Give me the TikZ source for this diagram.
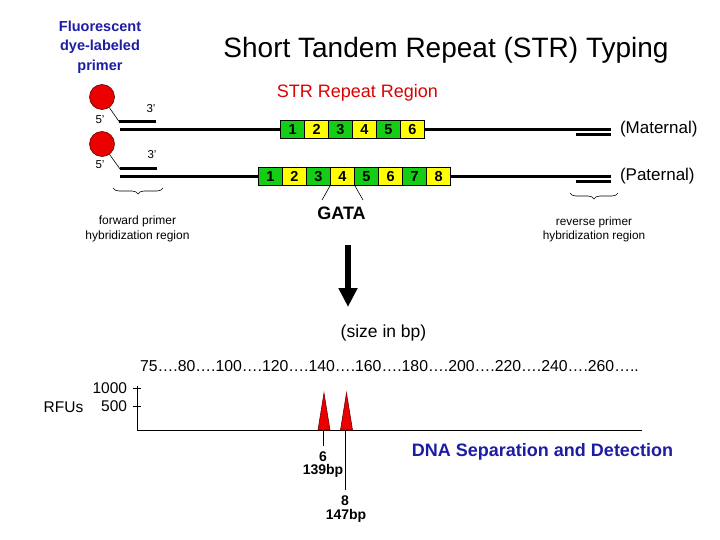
\documentclass[tikz,border=0pt]{standalone}
\usepackage{fontspec}
\setmainfont{Liberation Sans}
\usetikzlibrary{arrows.meta,decorations.pathreplacing}
\definecolor{dyeblue}{RGB}{28,28,165}
\definecolor{strred}{RGB}{220,0,0}
\definecolor{boxgreen}{RGB}{20,205,20}
\definecolor{boxyellow}{RGB}{255,255,0}
\definecolor{peakred}{RGB}{235,0,0}
\newcommand{\fs}[1]{\fontsize{#1}{#1}\selectfont}
\tikzset{
  txt/.style={inner sep=0pt, outer sep=0pt},
  strand/.style={line width=3.5pt},
  primerbar/.style={line width=3pt},
  gbox/.style={draw=black, line width=0.7pt, fill=boxgreen, minimum width=24pt, minimum height=17.5pt, inner sep=0pt, font=\fs{14.5}\bfseries},
  ybox/.style={gbox, fill=boxyellow},
  dye/.style={circle, draw=red!40!black, line width=0.6pt, fill=peakred, minimum size=25pt, inner sep=0pt},
  thin/.style={line width=0.6pt},
  bracestyle/.style={thin, decorate, decoration={brace, mirror, amplitude=6pt}},
  peak/.style={fill=peakred, draw=red!45!black, line width=0.6pt},
}
\begin{document}
\begin{tikzpicture}[x=1pt,y=-1pt]
\useasboundingbox (0,0) rectangle (720,540);

% titles
\node[txt, align=center, text=dyeblue, font=\fs{14.5}\bfseries, text depth=0pt] (dyetitle) at (100,45.5) {Fluorescent\\[5pt]dye-labeled\\[5pt]primer};
\node[txt, font=\fs{28}] (title) at (446,50) {Short Tandem Repeat (STR) Typing};
\node[txt, text=strred, font=\fs{18}] (strregion) at (357.5,93) {STR Repeat Region};

% dye circles
\node[dye] (dye1) at (102,97) {};
\node[dye] (dye2) at (102,144) {};

% strands
\coordinate (m0) at (120,129.5);
\coordinate (m1) at (611,129.5);
\coordinate (p0) at (120,176.5);
\coordinate (p1) at (611,176.5);
\draw[strand] (m0) -- (m1);
\draw[strand] (p0) -- (p1);

% forward primers
\coordinate (f1a) at (119,121.5); \coordinate (f1b) at (156,121.5);
\coordinate (f2a) at (120,169); \coordinate (f2b) at (157,169);
\draw[primerbar] (f1a) -- (f1b);
\draw[primerbar] (f2a) -- (f2b);
\draw[thin] (dye1) -- (f1a);
\draw[thin] (dye2) -- (f2a);

% reverse primers
\coordinate (r1a) at (576,135); \coordinate (r1b) at (611,135);
\coordinate (r2a) at (576,181.5); \coordinate (r2b) at (611,181.5);
\draw[primerbar] (r1a) -- (r1b);
\draw[primerbar] (r2a) -- (r2b);

% end labels
\node[txt, font=\fs{11.5}] (five1) at (100,120) {5'};
\node[txt, font=\fs{11.5}] (three1) at (151,108.5) {3'};
\node[txt, font=\fs{11.5}] (five2) at (100,165) {5'};
\node[txt, font=\fs{11.5}] (three2) at (152,155) {3'};

% maternal repeats
\foreach \i in {1,...,6}{
  \pgfmathparse{isodd(\i) ? "gbox" : "ybox"}
  \edef\sty{\pgfmathresult}
  \node[style=\sty] (m\i) at ({280.7+23.93*(\i-0.5)},129.5) {\i};
}
% paternal repeats
\foreach \i in {1,...,8}{
  \pgfmathparse{isodd(\i) ? "gbox" : "ybox"}
  \edef\sty{\pgfmathresult}
  \node[style=\sty] (p\i) at ({258.3+24.05*(\i-0.5)},176.6) {\i};
}

\node[txt, font=\fs{17}, anchor=west] (maternal) at (620,129) {(Maternal)};
\node[txt, font=\fs{17}, anchor=west] (paternal) at (620,176) {(Paternal)};

% GATA
\node[txt, font=\fs{18}\bfseries] (gata) at (341.5,213) {GATA};
\coordinate (ga1) at (322,200);
\coordinate (ga2) at (363,200);
\draw[thin] (p4.south west) -- (ga1);
\draw[thin] (p4.south east) -- (ga2);

% braces
\coordinate (fb0) at (113,188); \coordinate (fb1) at (163,188);
\draw[bracestyle] (fb0) -- (fb1);
\coordinate (rb0) at (570,193); \coordinate (rb1) at (618,193);
\draw[bracestyle] (rb0) -- (rb1);
\node[txt, align=center, font=\fs{12}] (fwdlab) at (137.5,228.5) {forward primer\\[3pt]hybridization region};
\node[txt, align=center, font=\fs{11.8}] (revlab) at (594,229.5) {reverse primer\\[3pt]hybridization region};

% big arrow
\coordinate (a0) at (348,245);
\coordinate (a1) at (348,307);
\draw[line width=6pt, -{Triangle[length=19pt,width=18pt]}] (a0) -- (a1);

\node[txt, font=\fs{17.5}] (sizebp) at (383.5,333) {(size in bp)};
\node[txt, font=\fs{15.8}, anchor=west] (scale) at (140,366) {75….80….100….120….140….160….180….200….220….240….260…..};

% axes
\coordinate (o) at (137.5,430);
\coordinate (ytop) at (137.5,386);
\coordinate (xend) at (642,430);
\draw[thin] (ytop) -- (o) -- (xend);
\coordinate (t1a) at (133,388.5); \coordinate (t1b) at (141,388.5);
\coordinate (t2a) at (133,406.5); \coordinate (t2b) at (141,406.5);
\draw[thin] (t1a) -- (t1b);
\draw[thin] (t2a) -- (t2b);
\node[txt, font=\fs{15.5}, anchor=east] (y1000) at (127,388) {1000};
\node[txt, font=\fs{15.5}, anchor=east] (y500) at (127,406) {500};
\node[txt, font=\fs{15.5}] (rfu) at (63.5,407.5) {RFUs};

% peaks
\coordinate (pk1) at (324,393);
\coordinate (pk2) at (346.5,393);
\draw[peak] (318,430) -- (pk1) -- (330,430) -- cycle;
\draw[peak] (340.5,430) -- (pk2) -- (352.5,430) -- cycle;
\coordinate (l1a) at (323.5,430); \coordinate (l1b) at (323.5,446);
\coordinate (l2a) at (345.5,430); \coordinate (l2b) at (345.5,490);
\draw[thin] (l1a) -- (l1b);
\draw[thin] (l2a) -- (l2b);
\node[txt, font=\fs{14}\bfseries] (six) at (323,457) {6};
\node[txt, font=\fs{14}\bfseries] (bp139) at (323,471) {139bp};
\node[txt, font=\fs{14}\bfseries] (eight) at (345,501) {8};
\node[txt, font=\fs{14}\bfseries] (bp147) at (346,516) {147bp};

\node[txt, text=dyeblue, font=\fs{18}\bfseries] (detect) at (542.5,452) {DNA Separation and Detection};
\end{tikzpicture}
\end{document}
